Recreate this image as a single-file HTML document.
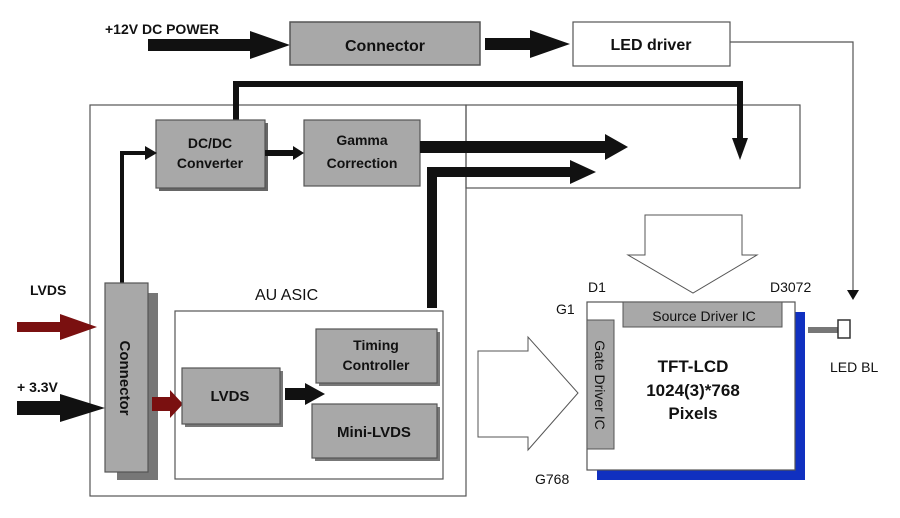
<!DOCTYPE html>
<html><head><meta charset="utf-8"><style>
html,body{margin:0;padding:0;background:#fff}
svg{display:block}
text{font-family:"Liberation Sans",Arial,sans-serif;fill:#111}
.b{font-weight:bold}
</style></head><body>
<svg width="900" height="518" viewBox="0 0 900 518" xmlns="http://www.w3.org/2000/svg">
<rect width="900" height="518" fill="#fff"/>
<!-- top row -->
<text x="105" y="34" font-size="14" class="b">+12V DC POWER</text>
<polygon points="148,39 250,39 250,31 290,45 250,59 250,51 148,51" fill="#111"/>
<rect x="290" y="22" width="190" height="43" fill="#a8a8a8" stroke="#555" stroke-width="1.5"/>
<text x="385" y="51" font-size="16" class="b" text-anchor="middle">Connector</text>
<polygon points="485,38 530,38 530,30 570,44 530,58 530,50 485,50" fill="#111"/>
<rect x="573" y="22" width="157" height="44" fill="#fff" stroke="#555" stroke-width="1.2"/>
<text x="651" y="50" font-size="16" class="b" text-anchor="middle">LED driver</text>
<polyline points="730,42 853,42 853,292" fill="none" stroke="#555" stroke-width="1.2"/>
<polygon points="847,290 859,290 853,300" fill="#111"/>
<!-- outer boxes -->
<rect x="90" y="105" width="376" height="391" fill="none" stroke="#555" stroke-width="1.2"/>
<rect x="466" y="105" width="334" height="83" fill="none" stroke="#555" stroke-width="1.2"/>
<!-- thick top line -->
<polyline points="236,120 236,84 740,84 740,140" fill="none" stroke="#111" stroke-width="6"/>
<polygon points="732,138 748,138 740,160" fill="#111"/>
<!-- DC/DC, Gamma -->
<rect x="159" y="123" width="109" height="68" fill="#666"/>
<rect x="156" y="120" width="109" height="68" fill="#a8a8a8" stroke="#555" stroke-width="1.2"/>
<text x="210" y="148" font-size="14" class="b" text-anchor="middle">DC/DC</text>
<text x="210" y="168" font-size="14" class="b" text-anchor="middle">Converter</text>
<rect x="304" y="120" width="116" height="66" fill="#a8a8a8" stroke="#555" stroke-width="1.2"/>
<text x="362" y="145" font-size="14" class="b" text-anchor="middle">Gamma</text>
<text x="362" y="168" font-size="14" class="b" text-anchor="middle">Correction</text>
<polygon points="265,150 293,150 293,146 304,153 293,160 293,156 265,156" fill="#111"/>
<polygon points="420,141 605,141 605,134 628,147 605,160 605,153 420,153" fill="#111"/>
<polyline points="432,308 432,172 575,172" fill="none" stroke="#111" stroke-width="10"/>
<polygon points="570,160 596,172 570,184" fill="#111"/>
<polyline points="122,283 122,153 148,153" fill="none" stroke="#111" stroke-width="4"/>
<polygon points="145,146 157,153 145,160" fill="#111"/>
<!-- left connector -->
<rect x="117" y="293" width="41" height="187" fill="#777"/>
<rect x="105" y="283" width="43" height="189" fill="#a8a8a8" stroke="#555" stroke-width="1.2"/>
<text transform="translate(120,378) rotate(90)" font-size="15" class="b" text-anchor="middle">Connector</text>
<text x="30" y="295" font-size="14" class="b">LVDS</text>
<polygon points="17,322 60,322 60,314 97,327 60,340 60,332 17,332" fill="#7a1010"/>
<text x="17" y="392" font-size="14" class="b">+ 3.3V</text>
<polygon points="17,401 60,401 60,394 105,408 60,422 60,415 17,415" fill="#111"/>
<!-- AU ASIC -->
<text x="255" y="300" font-size="16">AU ASIC</text>
<rect x="175" y="311" width="268" height="168" fill="none" stroke="#555" stroke-width="1.2"/>
<polygon points="152,397 170,397 170,390 183,404 170,418 170,411 152,411" fill="#7a1010"/>
<rect x="185" y="371" width="98" height="56" fill="#777"/>
<rect x="182" y="368" width="98" height="56" fill="#a8a8a8" stroke="#555" stroke-width="1.2"/>
<text x="230" y="401" font-size="15" class="b" text-anchor="middle">LVDS</text>
<polygon points="285,388 305,388 305,383 325,394 305,405 305,400 285,400" fill="#111"/>
<rect x="319" y="332" width="121" height="54" fill="#777"/>
<rect x="316" y="329" width="121" height="54" fill="#a8a8a8" stroke="#555" stroke-width="1.2"/>
<text x="376" y="350" font-size="14" class="b" text-anchor="middle">Timing</text>
<text x="376" y="370" font-size="14" class="b" text-anchor="middle">Controller</text>
<rect x="315" y="407" width="125" height="54" fill="#777"/>
<rect x="312" y="404" width="125" height="54" fill="#a8a8a8" stroke="#555" stroke-width="1.2"/>
<text x="374" y="437" font-size="15" class="b" text-anchor="middle">Mini-LVDS</text>
<!-- right panel arrows -->
<polygon points="645,215 742,215 742,255 757,255 693,293 628,255 645,255" fill="#fff" stroke="#555" stroke-width="1"/>
<polygon points="478,351 528,351 528,337 578,393 528,450 528,437 478,437" fill="#fff" stroke="#555" stroke-width="1"/>
<!-- LCD -->
<rect x="597" y="312" width="208" height="168" fill="#1030c0"/>
<rect x="587" y="302" width="208" height="168" fill="#fff" stroke="#555" stroke-width="1.2"/>
<rect x="623" y="302" width="159" height="25" fill="#a8a8a8" stroke="#555" stroke-width="1"/>
<text x="704" y="321" font-size="14" text-anchor="middle">Source Driver IC</text>
<rect x="587" y="320" width="27" height="129" fill="#a8a8a8" stroke="#555" stroke-width="1"/>
<text transform="translate(595,385) rotate(90)" font-size="14" text-anchor="middle">Gate Driver IC</text>
<text x="693" y="372" font-size="17" class="b" text-anchor="middle">TFT-LCD</text>
<text x="693" y="396" font-size="17" class="b" text-anchor="middle">1024(3)*768</text>
<text x="693" y="419" font-size="17" class="b" text-anchor="middle">Pixels</text>
<text x="588" y="292" font-size="14">D1</text>
<text x="770" y="292" font-size="14">D3072</text>
<text x="556" y="314" font-size="14">G1</text>
<text x="535" y="484" font-size="14">G768</text>
<rect x="808" y="327" width="32" height="6" fill="#777"/>
<rect x="838" y="320" width="12" height="18" fill="#fff" stroke="#333" stroke-width="1.5"/>
<text x="830" y="372" font-size="14">LED BL</text>
</svg>
</body></html>
